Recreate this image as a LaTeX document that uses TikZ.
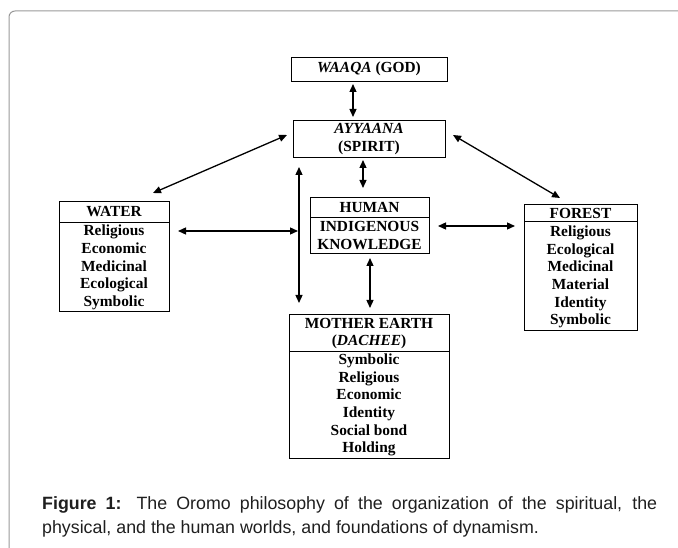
\documentclass[tikz,border=0pt]{standalone}
\usepackage{fontspec}
\setmainfont{Liberation Serif}
\newfontfamily\capfont{Liberation Sans}
\usetikzlibrary{arrows.meta}
\begin{document}
\begin{tikzpicture}[x=1pt,y=-1pt,
  box/.style={draw, line width=0.9pt, inner sep=0pt, anchor=north west},
  lbl/.style={font=\bfseries\fontsize{15.4}{17.7}\selectfont, align=center, inner sep=0pt},
  arr/.style={{Triangle[length=8pt,width=7pt]}-{Triangle[length=8pt,width=7pt]}, line width=1.3pt},
  captext/.style={anchor=base west, inner sep=0pt, font=\capfont\fontsize{17.8}{24}\selectfont, text=black!88}
]
\useasboundingbox (0,0) rectangle (678,548);
% outer frame
\draw[black!40, line width=1pt, rounded corners=6pt] (9,548) -- (9,11) -- (678,11);

% boxes
\node[box, minimum width=156pt, minimum height=24pt] (waaqa) at (291,57) {};
\node[box, minimum width=152pt, minimum height=37pt] (ayyaana) at (293,120) {};
\node[box, minimum width=119pt, minimum height=56pt] (human) at (310,197) {};
\node[box, minimum width=110pt, minimum height=110pt] (water) at (59,201) {};
\node[box, minimum width=113pt, minimum height=126pt] (forest) at (524,204) {};
\node[box, minimum width=160pt, minimum height=144pt] (earth) at (289,314) {};

% dividers
\draw[line width=0.9pt] ([yshift=-20pt]human.north west) -- ([yshift=-20pt]human.north east);
\draw[line width=0.9pt] ([yshift=-21pt]water.north west) -- ([yshift=-21pt]water.north east);
\draw[line width=0.9pt] ([yshift=-17pt]forest.north west) -- ([yshift=-17pt]forest.north east);
\draw[line width=0.9pt] ([yshift=-37pt]earth.north west) -- ([yshift=-37pt]earth.north east);

% texts
\node[lbl] (waaqaT) at (369,69) {\textit{WAAQA} (GOD)};
\node[lbl] (ayyaanaT) at (369,139) {\textit{AYYAANA}\\(SPIRIT)};
\node[lbl] (humanH) at (369.5,207.5) {HUMAN};
\node[lbl] (humanT) at (369.5,235.5) {INDIGENOUS\\KNOWLEDGE};
\node[lbl] (waterH) at (114,211.5) {WATER};
\node[lbl] (waterT) at (114,267.5) {Religious\\Economic\\Medicinal\\Ecological\\Symbolic};
\node[lbl] (forestH) at (580.5,213) {FOREST};
\node[lbl] (forestT) at (580.5,277) {Religious\\Ecological\\Medicinal\\Material\\Identity\\Symbolic};
\node[lbl] (earthH) at (369,333.5) {MOTHER EARTH\\(\textit{DACHEE})};
\node[lbl] (earthT) at (369,405) {Symbolic\\Religious\\Economic\\Identity\\Social bond\\Holding};

% arrow end points
\coordinate (a1) at (353,84);  \coordinate (b1) at (353,117);
\coordinate (a2) at (363,160); \coordinate (b2) at (363,188);
\coordinate (a3) at (299,167); \coordinate (b3) at (299,303);
\coordinate (a4) at (370,258); \coordinate (b4) at (370,308);
\coordinate (a5) at (178,231); \coordinate (b5) at (298,231);
\coordinate (a6) at (438,226); \coordinate (b6) at (515,226);
\coordinate (a7) at (287,135); \coordinate (b7) at (153,193);
\coordinate (a8) at (453,135); \coordinate (b8) at (560,198);
\foreach \i in {1,...,8} {\draw[arr] (a\i) -- (b\i);}

% caption
\node[captext] (cap1) at (42,509) {\makebox[615pt][s]{\textbf{Figure 1:} The Oromo philosophy of the organization of the spiritual, the}};
\node[captext] (cap2) at (42,533) {physical, and the human worlds, and foundations of dynamism.};
\end{tikzpicture}
\end{document}
